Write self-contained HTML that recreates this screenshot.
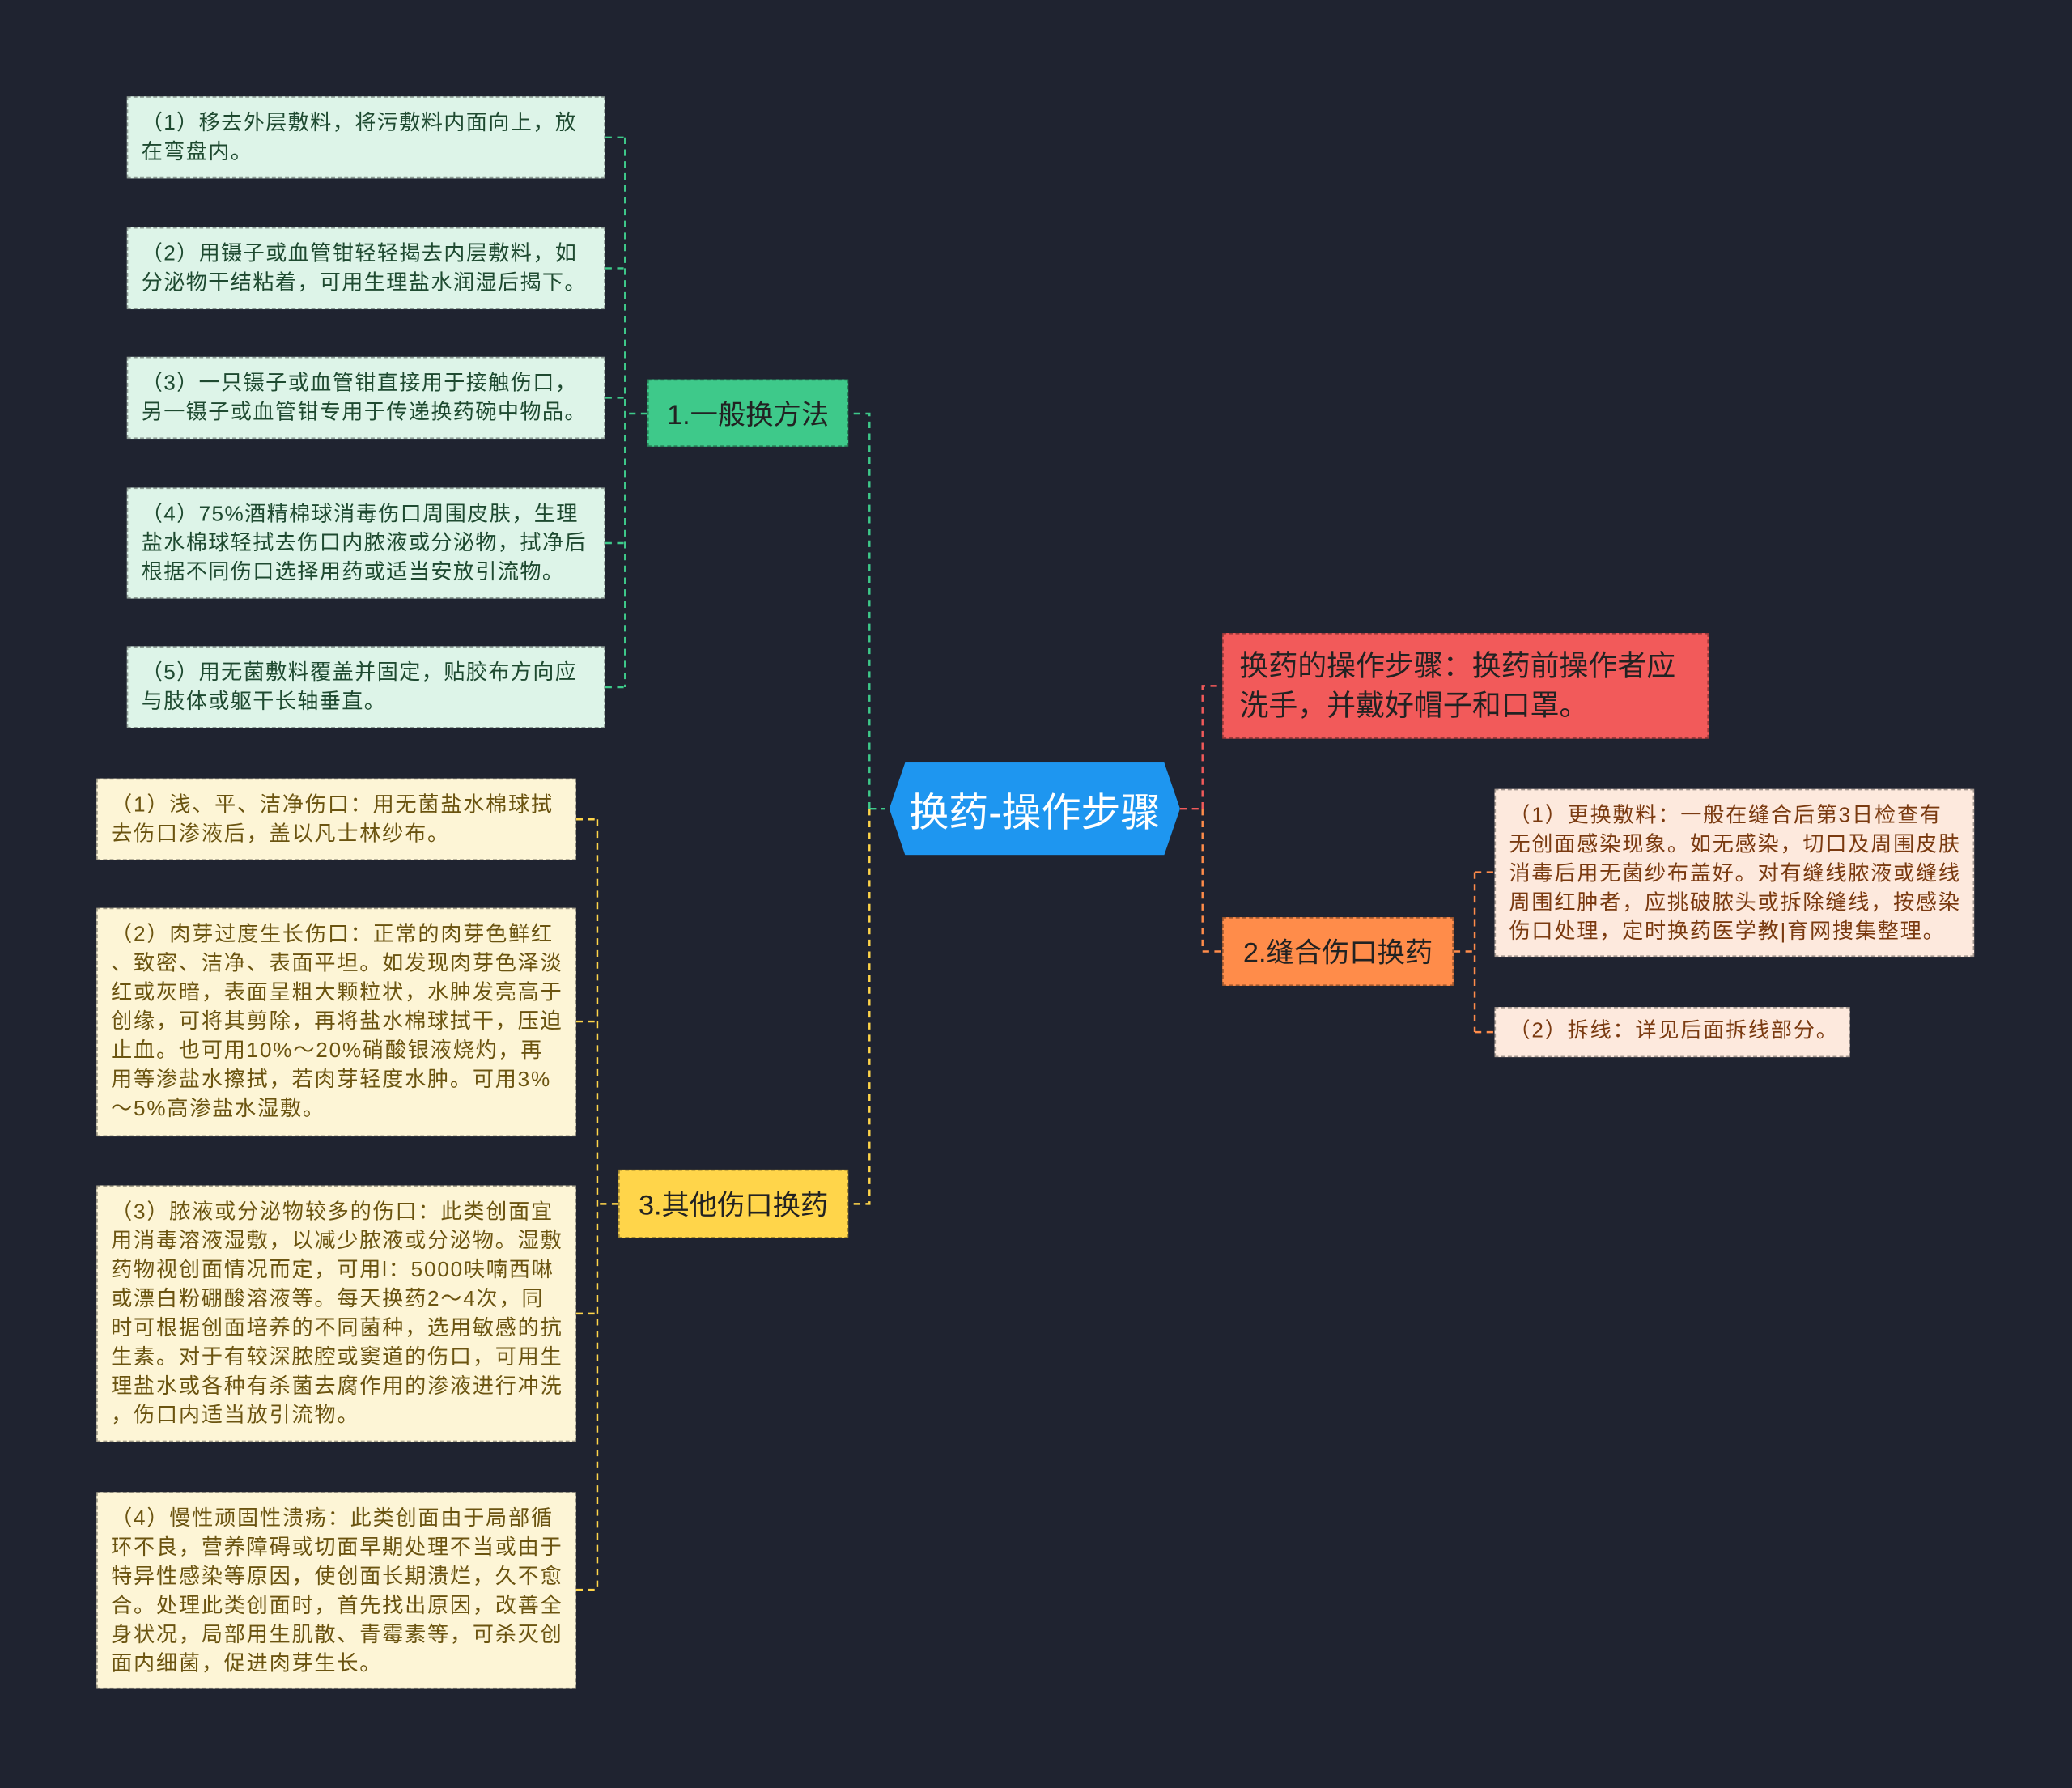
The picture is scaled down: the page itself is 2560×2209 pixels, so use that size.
<!DOCTYPE html>
<html><head><meta charset="utf-8"><style>
html,body{margin:0;padding:0;background:#1f2330;}
#wrap{width:1568px;height:1353px;position:relative;transform:scale(1.63265);transform-origin:0 0;font-family:"Liberation Sans","Noto Sans CJK SC",sans-serif;}
.n{position:absolute;box-sizing:border-box;border:1px dashed rgba(0,0,0,0.35);}
.leaf{font-size:16px;line-height:22px;padding:9px 6px 9px 10px;white-space:nowrap;}
.g{background:#ddf4e8;color:#1e4a30;letter-spacing:0.85px;}
.y{background:#fdf5d6;color:#6b5410;letter-spacing:1.1px;}
.o{background:#fde9dd;color:#7a3a10;letter-spacing:1.1px;}
.main{font-size:21px;display:flex;align-items:center;justify-content:center;color:#222;}
svg{position:absolute;left:0;top:0;}
</style></head><body><div id="wrap">
<svg width="1568" height="1353" fill="none" stroke-width="1.5" stroke-dasharray="5,4">
<g stroke="#3ec98a">
<path d="M658 612 H670 M658 612 V313 H642"/>
<path d="M490 313 H473 M473 104 V520 M458 104 H473 M458 203 H473 M458 301 H473 M458 411 H473 M458 520 H473"/>
</g>
<g stroke="#ffd54a">
<path d="M658 612 V911 H642"/>
<path d="M468 911 H452 M452 620 V1203 M436 620 H452 M436 773 H452 M436 994 H452 M436 1203 H452"/>
</g>
<g stroke="#f25a5a"><path d="M893 612 H910 M910 612 V519 H925"/></g>
<g stroke="#ff8c4a"><path d="M910 612 V720 H925 M1100 720 H1116 M1116 660 V781 M1116 660 H1131 M1116 781 H1131"/></g>
</svg>
<div class="n" style="left:673px;top:577px;width:220px;height:70px;background:#1e96f0;color:#fff;font-size:30px;display:flex;align-items:center;justify-content:center;border:none;clip-path:polygon(12px 0,208px 0,220px 35px,208px 70px,12px 70px,0 35px);">换药-操作步骤</div>
<div class="n main" style="left:490px;top:287px;width:152px;height:51px;background:#3ec98a;">1.一般换方法</div>
<div class="n main" style="left:468px;top:885px;width:174px;height:52px;background:#ffd54a;">3.其他伤口换药</div>
<div class="n main" style="left:925px;top:479px;width:368px;height:80px;background:#f25a5a;justify-content:flex-start;padding:0 12px;line-height:30px;font-size:22px;">换药的操作步骤：换药前操作者应<br>洗手，并戴好帽子和口罩。</div>
<div class="n main" style="left:925px;top:694px;width:175px;height:52px;background:#ff8c4a;">2.缝合伤口换药</div>

<div class="n leaf g" style="left:96px;top:73px;width:362px;height:62px;">（1）移去外层敷料，将污敷料内面向上，放<br>在弯盘内。</div>
<div class="n leaf g" style="left:96px;top:172px;width:362px;height:62px;">（2）用镊子或血管钳轻轻揭去内层敷料，如<br>分泌物干结粘着，可用生理盐水润湿后揭下。</div>
<div class="n leaf g" style="left:96px;top:270px;width:362px;height:62px;">（3）一只镊子或血管钳直接用于接触伤口，<br>另一镊子或血管钳专用于传递换药碗中物品。</div>
<div class="n leaf g" style="left:96px;top:369px;width:362px;height:84px;">（4）75%酒精棉球消毒伤口周围皮肤，生理<br>盐水棉球轻拭去伤口内脓液或分泌物，拭净后<br>根据不同伤口选择用药或适当安放引流物。</div>
<div class="n leaf g" style="left:96px;top:489px;width:362px;height:62px;">（5）用无菌敷料覆盖并固定，贴胶布方向应<br>与肢体或躯干长轴垂直。</div>

<div class="n leaf y" style="left:73px;top:589px;width:363px;height:62px;">（1）浅、平、洁净伤口：用无菌盐水棉球拭<br>去伤口渗液后，盖以凡士林纱布。</div>
<div class="n leaf y" style="left:73px;top:687px;width:363px;height:173px;">（2）肉芽过度生长伤口：正常的肉芽色鲜红<br>、致密、洁净、表面平坦。如发现肉芽色泽淡<br>红或灰暗，表面呈粗大颗粒状，水肿发亮高于<br>创缘，可将其剪除，再将盐水棉球拭干，压迫<br>止血。也可用10%～20%硝酸银液烧灼，再<br>用等渗盐水擦拭，若肉芽轻度水肿。可用3%<br>～5%高渗盐水湿敷。</div>
<div class="n leaf y" style="left:73px;top:897px;width:363px;height:194px;">（3）脓液或分泌物较多的伤口：此类创面宜<br>用消毒溶液湿敷，以减少脓液或分泌物。湿敷<br>药物视创面情况而定，可用l：5000呋喃西啉<br>或漂白粉硼酸溶液等。每天换药2～4次，同<br>时可根据创面培养的不同菌种，选用敏感的抗<br>生素。对于有较深脓腔或窦道的伤口，可用生<br>理盐水或各种有杀菌去腐作用的渗液进行冲洗<br>，伤口内适当放引流物。</div>
<div class="n leaf y" style="left:73px;top:1129px;width:363px;height:149px;">（4）慢性顽固性溃疡：此类创面由于局部循<br>环不良，营养障碍或切面早期处理不当或由于<br>特异性感染等原因，使创面长期溃烂，久不愈<br>合。处理此类创面时，首先找出原因，改善全<br>身状况，局部用生肌散、青霉素等，可杀灭创<br>面内细菌，促进肉芽生长。</div>

<div class="n leaf o" style="left:1131px;top:597px;width:363px;height:127px;">（1）更换敷料：一般在缝合后第3日检查有<br>无创面感染现象。如无感染，切口及周围皮肤<br>消毒后用无菌纱布盖好。对有缝线脓液或缝线<br>周围红肿者，应挑破脓头或拆除缝线，按感染<br>伤口处理，定时换药医学教|育网搜集整理。</div>
<div class="n leaf o" style="left:1131px;top:762px;width:269px;height:38px;padding-top:7px;">（2）拆线：详见后面拆线部分。</div>
</div></body></html>
